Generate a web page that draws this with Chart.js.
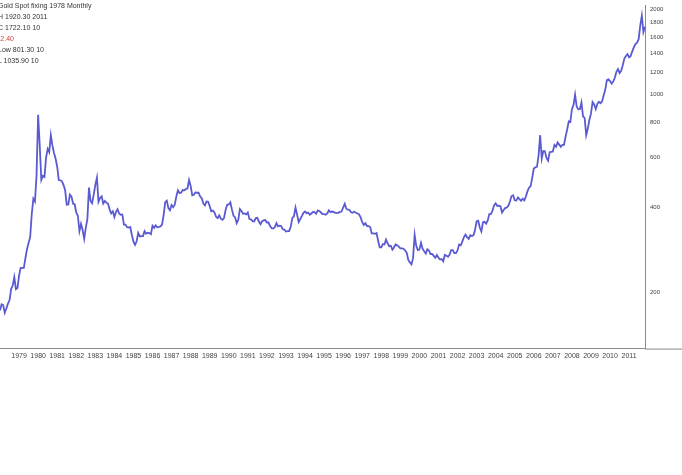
<!DOCTYPE html>
<html>
<head>
<meta charset="utf-8">
<script src="https://cdn.jsdelivr.net/npm/chart.js@4"></script>
<style>
  html, body { margin: 0; padding: 0; background: #fff; }
  #wrap { position: relative; width: 682px; height: 475px; }
  #box { position: absolute; left: 0; top: 0; width: 682px; height: 363px; }
  #legend {
    position: absolute; left: -2px; top: 0;
    font: 7px "Liberation Sans", Arial, sans-serif; color: #333;
    line-height: 11px;
  }
  #legend .neg { color: #d04040; }
</style>
</head>
<body>
<div id="wrap">
  <div id="box"><canvas id="goldChart"></canvas></div>
  <div id="legend">
    <div>Gold Spot fixing 1978 Monthly</div>
    <div>H 1920.30 2011</div>
    <div>C 1722.10 10</div>
    <div class="neg">-2.40</div>
    <div>Low 801.30 10</div>
    <div>L 1035.90 10</div>
  </div>
</div>
<script>
// month categories, one per year in years[]
const years = ['1978', '1979', '1980', '1981', '1982', '1983', '1984', '1985', '1986', '1987',
    '1988', '1989', '1990', '1991', '1992', '1993', '1994', '1995', '1996', '1997',
    '1998', '1999', '2000', '2001', '2002', '2003', '2004', '2005', '2006', '2007',
    '2008', '2009', '2010', '2011'];
const months = ['Jan', 'Feb', 'Mar', 'Apr', 'May', 'Jun', 'Jul', 'Aug', 'Sep', 'Oct', 'Nov', 'Dec'];

// right axis ticks (log scale)
const yTicks = [200, 400, 600, 800, 1000, 1200, 1400, 1600, 1800, 2000];

// monthly prices
const gold78to82 = [
    173, 182, 181, 170, 176, 183, 188, 206, 212, 227, 206, 208,
    230, 245, 245, 245, 265, 285, 300, 315, 380, 430, 420, 520,
    850, 665, 500, 517, 513, 600, 644, 627, 720, 661, 623, 595,
    557, 500, 499, 495, 480, 460, 409, 410, 444, 437, 413, 410,
    384, 374, 330, 350, 333, 310, 339, 364, 470, 422, 414, 444
];
const gold83to87 = [
    481, 510, 419, 432, 438, 413, 422, 416, 412, 394, 381, 388,
    370, 386, 394, 381, 377, 378, 348, 348, 341, 340, 341, 320,
    303, 295, 304, 325, 316, 317, 317, 330, 323, 326, 325, 322,
    345, 339, 346, 340, 342, 343, 348, 376, 418, 423, 398, 391,
    408, 401, 409, 438, 460, 450, 451, 461, 460, 465, 467, 500
];
const gold88to92 = [
    477, 442, 444, 452, 451, 451, 437, 431, 413, 407, 420, 419,
    404, 388, 390, 384, 371, 367, 375, 365, 362, 367, 392, 409,
    410, 417, 393, 374, 369, 352, 362, 395, 389, 380, 381, 378,
    384, 364, 363, 358, 357, 367, 368, 356, 349, 358, 360, 361,
    354, 354, 344, 338, 337, 341, 352, 343, 345, 344, 335, 334
];
const gold93to97 = [
    329, 330, 330, 342, 367, 372, 400, 378, 355, 364, 373, 383,
    387, 382, 384, 377, 381, 386, 385, 380, 391, 389, 384, 379,
    379, 377, 381, 391, 385, 387, 386, 383, 383, 383, 386, 387,
    400, 412, 396, 393, 392, 385, 383, 387, 383, 381, 378, 369,
    355, 347, 352, 344, 344, 341, 324, 324, 323, 325, 306, 289
];
const gold98to02 = [
    289, 297, 296, 308, 299, 292, 293, 284, 289, 296, 294, 291,
    287, 287, 286, 282, 277, 261, 256, 252, 265, 320, 293, 283,
    284, 300, 286, 280, 275, 285, 282, 274, 274, 270, 266, 272,
    266, 262, 263, 258, 272, 270, 268, 273, 283, 283, 276, 276,
    282, 296, 294, 303, 314, 321, 314, 310, 319, 317, 319, 333
];
const gold03to07 = [
    357, 359, 340, 329, 355, 356, 351, 360, 379, 379, 390, 407,
    414, 405, 406, 404, 384, 392, 398, 400, 406, 420, 439, 442,
    424, 423, 434, 428, 422, 430, 424, 437, 456, 470, 476, 509,
    549, 555, 557, 610, 720, 596, 633, 632, 598, 585, 627, 629,
    631, 665, 655, 679, 667, 655, 665, 665, 712, 754, 806, 803
];
const gold08to11 = [
    889, 922, 1000, 909, 888, 889, 939, 839, 829, 720, 760, 816,
    858, 943, 924, 890, 928, 945, 934, 949, 996, 1043, 1127, 1134,
    1118, 1095, 1113, 1148, 1205, 1232, 1193, 1215, 1271, 1342, 1370, 1391,
    1356, 1372, 1424, 1473, 1510, 1528, 1572, 1755, 1900, 1665, 1740
];

const prices = [].concat(gold78to82, gold83to87, gold88to92, gold93to97,
    gold98to02, gold03to07, gold08to11);
const labels = years.flatMap(y => months.map(m => m + ' ' + y)).slice(0, prices.length);

// axis line carried on to the right edge, like the original
const extendBaseline = {
    id: 'extendBaseline',
    afterDraw(chart) {
        const { ctx, chartArea } = chart;
        ctx.save();
        ctx.strokeStyle = '#8a8a8a';
        ctx.lineWidth = 1;
        ctx.beginPath();
        ctx.moveTo(chartArea.right, chartArea.bottom + 0.5);
        ctx.lineTo(chart.width, chartArea.bottom + 0.5);
        ctx.stroke();
        ctx.restore();
    }
};

new Chart(document.getElementById('goldChart'), {
    type: 'line',
    data: {
        labels: labels,
        datasets: [{
            data: prices,
            borderColor: '#5a5ad2',
            borderWidth: 1.8,
            pointRadius: 0,
            tension: 0
        }]
    },
    options: {
        responsive: true,
        maintainAspectRatio: false,
        animation: false,
        layout: { padding: { left: 0, right: 0, top: 0, bottom: 0 } },
        plugins: {
            legend: { display: false },
            tooltip: { enabled: false }
        },
        scales: {
            x: {
                type: 'category',
                offset: false,
                afterFit: (scale) => { scale.paddingLeft = 0; scale.paddingRight = 0; },
                grid: { display: false, drawTicks: false },
                border: { display: true, color: '#8a8a8a' },
                ticks: {
                    autoSkip: false,
                    maxRotation: 0,
                    padding: 3,
                    color: '#444',
                    font: { size: 7, family: 'Liberation Sans' },
                    // the first January sits on the left edge and is not labelled
                    callback: (val, i) => (i % 12 === 0 && i > 0 ? labels[i].split(' ')[1] : '')
                }
            },
            y: {
                type: 'logarithmic',
                position: 'right',
                min: 127,
                max: 2065,
                afterBuildTicks: (scale) => {
                    scale.ticks = yTicks.map(v => ({ value: v }));
                },
                afterFit: (scale) => { scale.width = 37; },
                grid: { display: false, drawOnChartArea: false, tickLength: 3, drawTicks: true, color: '#8a8a8a' },
                border: { display: true, color: '#8a8a8a' },
                ticks: {
                    padding: 2,
                    color: '#444',
                    font: { size: 6, family: 'Liberation Sans' },
                    callback: (v) => String(v)
                }
            }
        }
    },
    plugins: [extendBaseline]
});
</script>
</body>
</html>
